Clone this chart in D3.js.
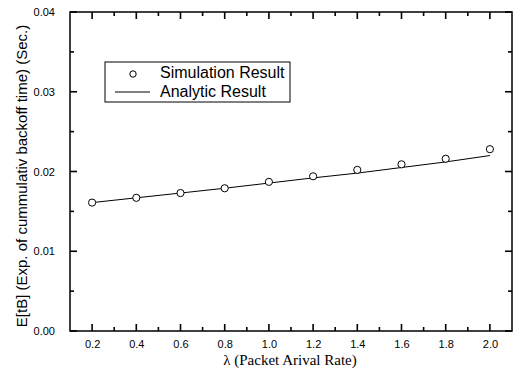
<!DOCTYPE html>
<html>
<head>
<meta charset="utf-8">
<script src="https://cdn.jsdelivr.net/npm/d3@7"></script>
<style>
  body { margin: 0; background: #fff; }
  text { font-family: Arial, "Liberation Sans", sans-serif; fill: #000; }
</style>
</head>
<body>
<div class="graphic"></div>
<script>
const lambdas = [0.2, 0.4, 0.6, 0.8, 1.0, 1.2, 1.4, 1.6, 1.8, 2.0];
const simulation = [0.0161, 0.0167, 0.0173, 0.0179, 0.0187, 0.0194, 0.0202, 0.0209, 0.0216, 0.0228];
const analytic = [0.0161, 0.0167, 0.0173, 0.0179, 0.01855, 0.0192, 0.0198, 0.0205, 0.0212, 0.0220];
const xTicks = [0.2, 0.4, 0.6, 0.8, 1.0, 1.2, 1.4, 1.6, 1.8, 2.0];
const xMinor = [0.3, 0.5, 0.7, 0.9, 1.1, 1.3, 1.5, 1.7, 1.9];
const yTicks = [0.00, 0.01, 0.02, 0.03, 0.04];
const yMinor = [0.005, 0.015, 0.025, 0.035];
const legendLabels = ['Simulation Result', 'Analytic Result'];

const width = 521, height = 374;
const margin = { top: 12, right: 9, bottom: 43, left: 70 };

const svg = d3.select('.graphic')
  .append('svg')
  .attr('width', width)
  .attr('height', height);

const x = d3.scaleLinear().domain([0.1, 2.1]).range([margin.left, width - margin.right]);
const y = d3.scaleLinear().domain([0, 0.04]).range([height - margin.bottom, margin.top]);

// tick labels from d3 axes
const bottom = svg.append('g')
  .attr('transform', `translate(0,${y(0)})`)
  .call(d3.axisBottom(x).tickValues(xTicks).tickSize(0).tickPadding(9).tickFormat(d3.format('.1f')));
bottom.selectAll('text').attr('font-size', 11);

const left = svg.append('g')
  .attr('transform', `translate(${x(0.1)},0)`)
  .call(d3.axisLeft(y).tickValues(yTicks).tickSize(0).tickPadding(15).tickFormat(d3.format('.2f')));
left.selectAll('text').attr('font-size', 11);

svg.selectAll('.domain').remove();

// frame
svg.append('rect')
  .attr('x', x(0.1)).attr('y', y(0.04))
  .attr('width', x(2.1) - x(0.1)).attr('height', y(0) - y(0.04))
  .attr('fill', 'none').attr('stroke', '#000').attr('stroke-width', 1.5);

// inward ticks on all four sides, drawn as thin rects
const xTickData = xTicks.map(v => ({ v, len: 7 })).concat(xMinor.map(v => ({ v, len: 4 })));
const yTickData = yTicks.map(v => ({ v, len: 7 })).concat(yMinor.map(v => ({ v, len: 4 })));

[y(0), y(0.04)].forEach((y0, side) => {
  svg.append('g')
    .selectAll('rect')
    .data(xTickData)
    .enter()
    .append('rect')
    .attr('x', d => x(d.v) - 0.8)
    .attr('y', d => side === 0 ? y0 - d.len : y0)
    .attr('width', 1.6)
    .attr('height', d => d.len)
    .attr('fill', '#000');
});
[x(0.1), x(2.1)].forEach((x0, side) => {
  svg.append('g')
    .selectAll('rect')
    .data(yTickData)
    .enter()
    .append('rect')
    .attr('y', d => y(d.v) - 0.8)
    .attr('x', d => side === 0 ? x0 : x0 - d.len)
    .attr('height', 1.6)
    .attr('width', d => d.len)
    .attr('fill', '#000');
});

// analytic line
const line = d3.line().x((d, i) => x(lambdas[i])).y(d => y(d));
svg.append('path')
  .datum(analytic)
  .attr('d', line)
  .attr('fill', 'none')
  .attr('stroke', '#000')
  .attr('stroke-width', 1);

// simulation points
svg.selectAll('circle.sim')
  .data(simulation)
  .enter()
  .append('circle')
  .attr('class', 'sim')
  .attr('cx', (d, i) => x(lambdas[i]))
  .attr('cy', d => y(d))
  .attr('r', 3.6)
  .attr('fill', '#fff')
  .attr('stroke', '#000')
  .attr('stroke-width', 1);

// legend
const legend = svg.append('g').attr('transform', 'translate(105,62)');
legend.append('rect')
  .attr('width', 185).attr('height', 40)
  .attr('fill', '#fff').attr('stroke', '#000').attr('stroke-width', 1);
legend.append('circle')
  .attr('cx', 28).attr('cy', 12).attr('r', 3.2)
  .attr('fill', '#fff').attr('stroke', '#000');
legend.append('line')
  .attr('x1', 10).attr('x2', 45).attr('y1', 30).attr('y2', 30)
  .attr('stroke', '#000');
legend.selectAll('text')
  .data(legendLabels)
  .enter()
  .append('text')
  .attr('x', 55)
  .attr('y', (d, i) => 16 + i * 18.5)
  .attr('font-size', 16)
  .text(d => d);

// axis titles
svg.append('text')
  .attr('x', 290).attr('y', 365)
  .attr('text-anchor', 'middle')
  .attr('font-size', 15)
  .style('font-family', '"Liberation Serif", "Times New Roman", serif')
  .text('λ (Packet Arival Rate)');

svg.append('text')
  .attr('transform', 'translate(27,176) rotate(-90)')
  .attr('text-anchor', 'middle')
  .attr('font-size', 15)
  .text('E[tB] (Exp. of cummulativ backoff time) (Sec.)');
</script>
</body>
</html>
